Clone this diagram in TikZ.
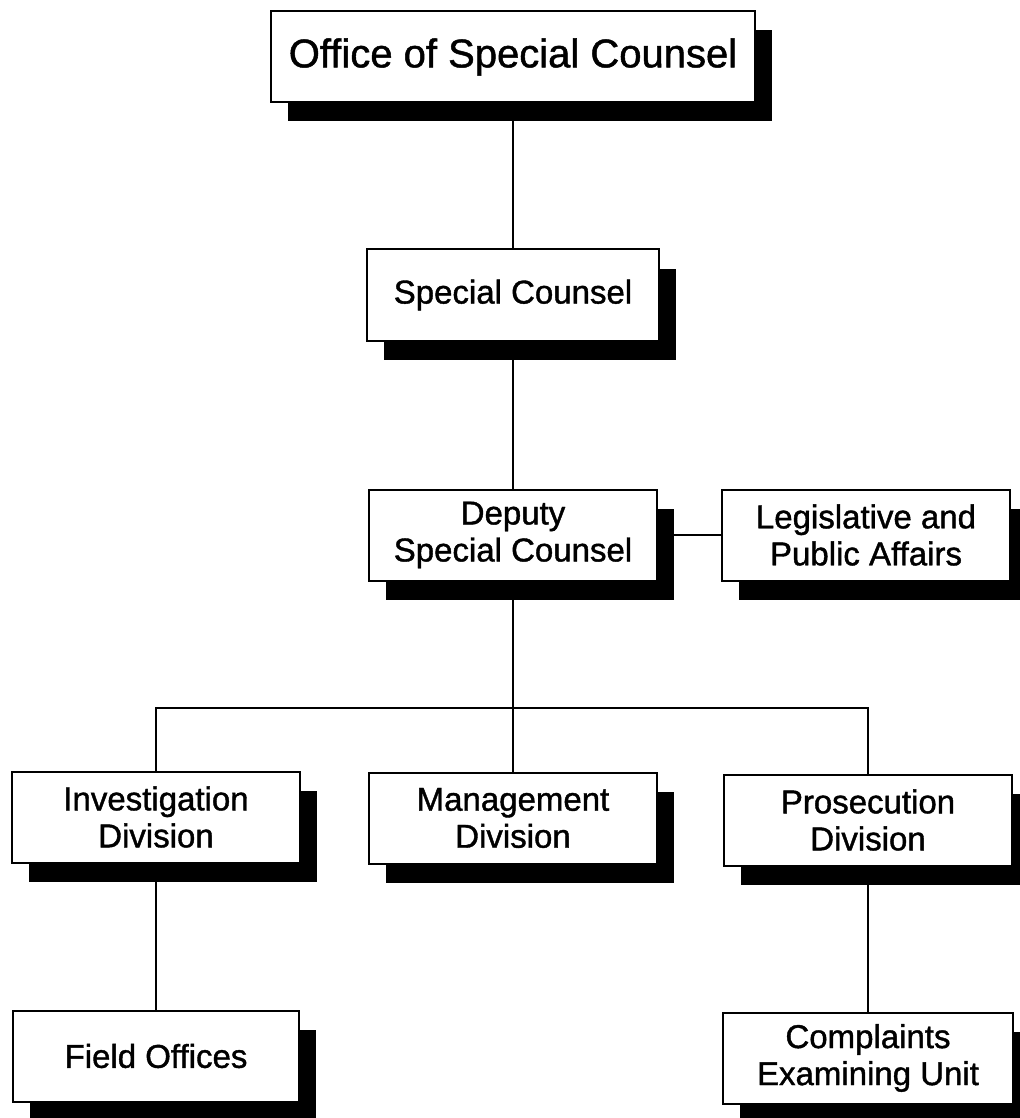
\documentclass[tikz,border=0pt]{standalone}
\usepackage{fontspec}
\setmainfont{Liberation Sans}[FakeBold=1.2]
\usetikzlibrary{shadows,backgrounds}

\begin{document}
\begin{tikzpicture}[x=0.5pt,y=-0.5pt,
  unit/.style={draw, fill=white, line width=1pt, align=center,
    minimum width=144pt, minimum height=45.5pt, inner sep=0pt,
    font=\fontsize{16.5}{18.5}\selectfont,
    drop shadow={shadow xshift=8.5pt, shadow yshift=-9.5pt, fill=black, opacity=1}},
  link/.style={line width=1pt}]
\useasboundingbox (0,0) rectangle (1019,1118);
\node[unit, minimum width=242pt, font=\fontsize{20}{22}\selectfont] (osc) at (513,57){Office of Special Counsel};
\node[unit, minimum width=146pt] (sc) at (513,295){Special Counsel};
\node[unit] (dsc) at (513,535){Deputy\\Special Counsel};
\node[unit] (lpa) at (866,535){Legislative and\\Public Affairs};
\node[unit] (inv) at (156,817){Investigation\\Division};
\node[unit] (mgmt) at (513,818){Management\\Division};
\node[unit] (pros) at (868,820){Prosecution\\Division};
\node[unit, minimum width=143pt] (field) at (156,1056){Field Offices};
\node[unit, minimum width=145pt] (ceu) at (868,1058){Complaints\\Examining Unit};
\coordinate (bus) at (513,708);

\begin{scope}[on background layer]
\draw[link](osc) -- (sc);
\draw[link](sc) -- (dsc);
\draw[link](dsc) -- (lpa);
\draw[link](dsc) -- (mgmt);
\draw[link](inv) |- (bus) -| (pros);
\draw[link](inv) -- (field);
\draw[link](pros) -- (ceu);
\end{scope}

\end{tikzpicture}
\end{document}
